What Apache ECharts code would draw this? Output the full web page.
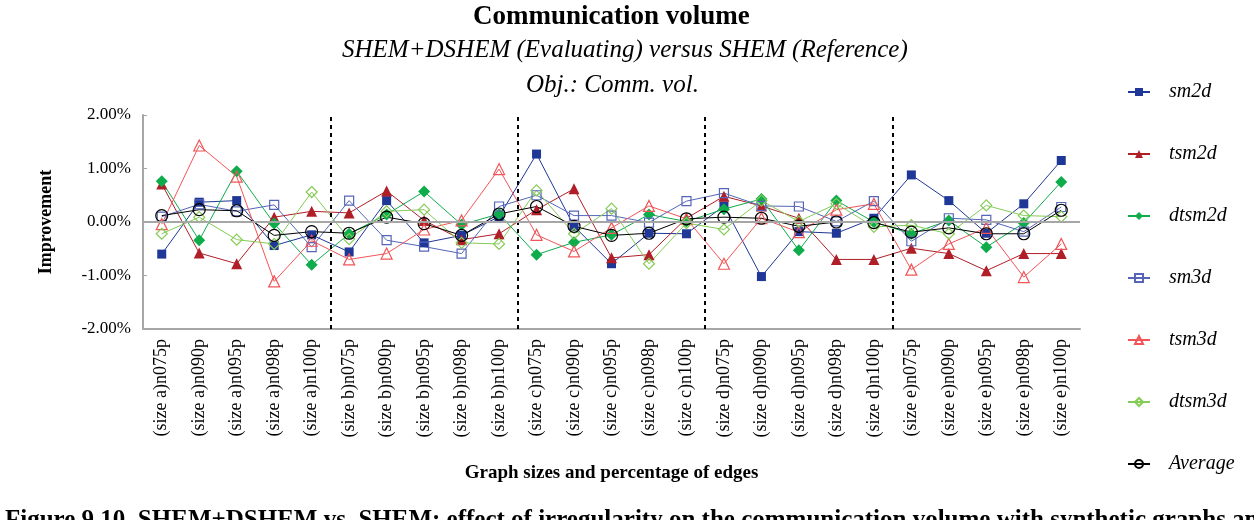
<!DOCTYPE html>
<html><head><meta charset="utf-8">
<script src="https://cdn.jsdelivr.net/npm/echarts@6/dist/echarts.min.js"></script>
<style>html,body{margin:0;padding:0;background:#fff}#c{width:1254px;height:520px}</style>
</head><body><div id="c"></div>
<script>
const categories = ['(size a)n075p','(size a)n090p','(size a)n095p','(size a)n098p','(size a)n100p',
  '(size b)n075p','(size b)n090p','(size b)n095p','(size b)n098p','(size b)n100p',
  '(size c)n075p','(size c)n090p','(size c)n095p','(size c)n098p','(size c)n100p',
  '(size d)n075p','(size d)n090p','(size d)n095p','(size d)n098p','(size d)n100p',
  '(size e)n075p','(size e)n090p','(size e)n095p','(size e)n098p','(size e)n100p'];
const sm2d   = [-0.60, 0.37, 0.40, -0.44, -0.24, -0.56, 0.40, -0.39, -0.25, 0.10, 1.27, -0.08, -0.78, -0.21, -0.22, 0.30, -1.02, -0.18, -0.21, 0.07, 0.88, 0.40, -0.21, 0.34, 1.15];
const tsm2d  = [0.71, -0.58, -0.78, 0.09, 0.20, 0.17, 0.58, 0.03, -0.33, -0.22, 0.23, 0.62, -0.67, -0.61, 0.07, 0.48, 0.30, 0.07, -0.70, -0.70, -0.49, -0.59, -0.91, -0.59, -0.59];
const dtsm2d = [0.76, -0.34, 0.95, -0.03, -0.80, -0.22, 0.14, 0.57, -0.05, 0.15, -0.61, -0.38, -0.24, 0.14, 0.01, 0.24, 0.43, -0.53, 0.40, 0.00, -0.22, 0.03, -0.47, -0.02, 0.75];
const sm3d   = [0.10, 0.33, 0.20, 0.32, -0.47, 0.40, -0.34, -0.46, -0.59, 0.29, 0.50, 0.12, 0.12, -0.01, 0.39, 0.54, 0.30, 0.29, 0.01, 0.39, -0.36, 0.07, 0.04, -0.18, 0.28];
const tsm3d  = [-0.04, 1.43, 0.85, -1.11, -0.35, -0.70, -0.59, -0.14, 0.03, 0.99, -0.24, -0.55, -0.11, 0.30, 0.06, -0.78, 0.07, -0.19, 0.23, 0.34, -0.89, -0.41, -0.11, -1.03, -0.41];
const dtsm3d = [-0.22, 0.09, -0.33, -0.41, 0.56, -0.32, 0.20, 0.23, -0.39, -0.41, 0.59, -0.22, 0.25, -0.78, -0.02, -0.14, 0.40, 0.01, 0.34, -0.09, -0.06, -0.22, 0.31, 0.12, 0.10];
const average = [0.12, 0.23, 0.21, -0.25, -0.18, -0.21, 0.09, -0.03, -0.25, 0.15, 0.29, -0.08, -0.25, -0.21, 0.06, 0.09, 0.07, -0.08, 0.00, -0.01, -0.19, -0.11, -0.22, -0.22, 0.22];
const groupBoundaries = [5, 10, 15, 20];
const yTicks = {min: -2, max: 2, interval: 1};

const F = 'Liberation Serif';
const chart = echarts.init(document.getElementById('c'));
function mk(name, data, color, symbol, size, hollow) {
  return {
    name, type: 'line', data, symbol, symbolSize: size,
    lineStyle: {color, width: 1},
    itemStyle: hollow ? {color: 'rgba(255,255,255,0)', borderColor: color, borderWidth: 1.2} : {color},
    emphasis: {disabled: true}, animation: false
  };
}
chart.setOption({
  backgroundColor: '#fff',
  animation: false,
  title: [
    {text: 'Communication volume', left: 468, top: -1, textStyle: {fontFamily: F, fontWeight: 'bold', fontSize: 27, color: '#000'}},
    {text: 'SHEM+DSHEM (Evaluating) versus SHEM (Reference)', left: 337, top: 33, textStyle: {fontFamily: F, fontStyle: 'italic', fontWeight: 'normal', fontSize: 25, color: '#000'}},
    {text: 'Obj.: Comm. vol.', left: 521, top: 68, textStyle: {fontFamily: F, fontStyle: 'italic', fontWeight: 'normal', fontSize: 25, color: '#000'}},
    {text: 'Figure 9.10. SHEM+DSHEM vs. SHEM: effect of irregularity on the communication volume with synthetic graphs and', left: 0, top: 503, textStyle: {fontFamily: F, fontWeight: 'bold', fontSize: 25, color: '#000'}}
  ],
  legend: {
    orient: 'vertical', left: 1122, top: 77, itemWidth: 22, itemHeight: 10, itemGap: 42,
    data: ['sm2d','tsm2d','dtsm2d','sm3d','tsm3d','dtsm3d','Average'],
    textStyle: {fontFamily: F, fontStyle: 'italic', fontSize: 20, color: '#000', padding: [0,0,0,14]}
  },
  grid: {left: 143, right: 174, top: 115, bottom: 191},
  xAxis: [{
    type: 'category', data: categories, boundaryGap: true,
    axisLine: {onZero: false, lineStyle: {color: '#a6a6a6', width: 2}},
    axisTick: {inside: true, length: 4, alignWithLabel: true, lineStyle: {color: '#a6a6a6'}},
    axisLabel: {rotate: 90, interval: 0, margin: 10, fontFamily: F, fontSize: 18, color: '#000'},
    name: 'Graph sizes and percentage of edges', nameLocation: 'middle', nameGap: 135,
    nameTextStyle: {fontFamily: F, fontWeight: 'bold', fontSize: 19, color: '#000'}
  }, {
    type: 'value', min: 0, max: 25, show: false
  }],
  yAxis: {
    type: 'value', min: yTicks.min, max: yTicks.max, interval: yTicks.interval,
    axisLine: {show: true, lineStyle: {color: '#a6a6a6', width: 2}},
    axisTick: {show: true, inside: true, length: 4, lineStyle: {color: '#a6a6a6'}},
    splitLine: {show: false},
    axisLabel: {formatter: v => v.toFixed(2) + '%', fontFamily: F, fontSize: 17, color: '#000', margin: 12},
    name: 'Improvement', nameLocation: 'middle', nameGap: 88, nameRotate: 90,
    nameTextStyle: {fontFamily: F, fontWeight: 'bold', fontSize: 18, color: '#000'}
  },
  series: [
    {
      type: 'line', xAxisIndex: 1, data: [], silent: true,
      markLine: {
        symbol: 'none', silent: true, label: {show: false}, animation: false,
        data: groupBoundaries.map(b => ({xAxis: b, lineStyle: {type: [4, 4], width: 2, color: '#000'}}))
          .concat([{yAxis: 0, lineStyle: {type: 'solid', width: 2, color: '#a6a6a6'}}])
      }
    },
    mk('sm2d', sm2d, '#1f3796', 'rect', 9, false),
    mk('tsm2d', tsm2d, '#b01e28', 'triangle', 11, false),
    mk('dtsm2d', dtsm2d, '#0fac4c', 'diamond', 12, false),
    mk('sm3d', sm3d, '#5566b8', 'rect', 9, true),
    mk('tsm3d', tsm3d, '#f25558', 'triangle', 11, true),
    mk('dtsm3d', dtsm3d, '#84cc55', 'diamond', 11, true),
    mk('Average', average, '#000000', 'circle', 12, true)
  ]
});
</script></body></html>
